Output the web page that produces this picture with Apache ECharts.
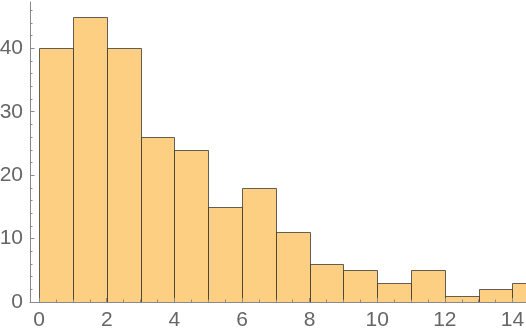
<!DOCTYPE html>
<html>
<head>
<meta charset="utf-8">
<script src="https://cdn.jsdelivr.net/npm/echarts@6/dist/echarts.min.js"></script>
<style>html,body{margin:0;padding:0;background:#fff}#c{width:526px;height:334px}</style>
</head>
<body>
<div id="c"></div>
<script>
const binStarts = [0,1,2,3,4,5,6,7,8,9,10,11,12,13,14];
const counts = [40,45,40,26,24,15,18,11,6,5,3,5,1,2,3];
const xMajorTicks = [0,2,4,6,8,10,12,14];
const xMinorTicks = [0.5,1,1.5,2.5,3,3.5,4.5,5,5.5,6.5,7,7.5,8.5,9,9.5,10.5,11,11.5,12.5,13,13.5];
const yMajorTicks = [0,10,20,30,40];
const yMinorTicks = [2,4,6,8,12,14,16,18,22,24,26,28,32,34,36,38,42,44,46];

const chart = echarts.init(document.getElementById('c'));
const labelStyle = {color:'#666', fontSize:21, fontFamily:'Liberation Sans'};
const lineC = '#8a8a8a';
const xBase = {type:'value', min:-0.27, max:14.4, gridIndex:0, splitLine:{show:false}, z:5};
const yBase = {type:'value', min:0, max:47.3, gridIndex:0, splitLine:{show:false}, z:5};
chart.setOption({
  animation:false,
  grid:{left:30, right:0, top:2, bottom:32, outerBoundsMode:'none', containLabel:false},
  xAxis:[
    Object.assign({}, xBase, {
      axisLine:{show:true, onZero:false, lineStyle:{color:lineC}},
      axisTick:{show:true, inside:true, length:4, lineStyle:{color:lineC}, customValues:xMajorTicks},
      axisLabel:Object.assign({margin:8, customValues:xMajorTicks}, labelStyle)
    }),
    Object.assign({}, xBase, {
      position:'bottom',
      axisLine:{show:false, onZero:false},
      axisTick:{show:true, inside:true, length:2.5, lineStyle:{color:lineC}, customValues:xMinorTicks},
      axisLabel:{show:false}
    })
  ],
  yAxis:[
    Object.assign({}, yBase, {
      axisLine:{show:true, onZero:false, lineStyle:{color:lineC}},
      axisTick:{show:true, inside:true, length:4.5, lineStyle:{color:lineC}, customValues:yMajorTicks},
      axisLabel:Object.assign({margin:7, customValues:yMajorTicks}, labelStyle)
    }),
    Object.assign({}, yBase, {
      position:'left',
      axisLine:{show:false, onZero:false},
      axisTick:{show:true, inside:true, length:2.5, lineStyle:{color:lineC}, customValues:yMinorTicks},
      axisLabel:{show:false}
    })
  ],
  series:[{
    type:'custom',
    xAxisIndex:0, yAxisIndex:0,
    clip:true,
    z:2,
    data: binStarts.map((s,i)=>[s, counts[i]]),
    renderItem:function(params, api){
      const s = api.value(0), c = api.value(1);
      const p0 = api.coord([s, 0]);
      const p1 = api.coord([s + 1, c]);
      const x0 = Math.round(p0[0]) + 0.5, x1 = Math.round(p1[0]) + 0.5;
      const yTop = Math.round(p1[1]) + 0.5, yB = Math.round(p0[1]) + 0.5;
      return {
        type:'rect',
        shape:{x:x0, y:yTop, width:x1-x0, height:yB-yTop},
        style:{fill:'#fccf82', stroke:'rgba(40,40,40,0.72)', lineWidth:1}
      };
    }
  }]
});
</script>
</body>
</html>
